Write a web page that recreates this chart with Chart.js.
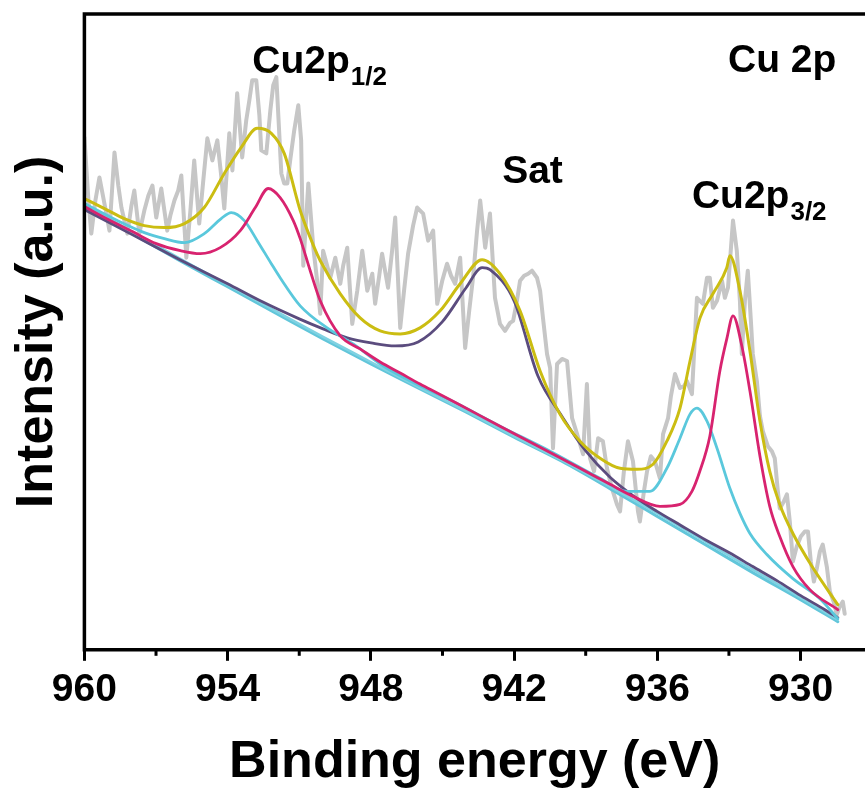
<!DOCTYPE html>
<html><head><meta charset="utf-8">
<script src="https://cdn.jsdelivr.net/npm/chart.js@4.4.0/dist/chart.umd.min.js"></script>
<style>html,body{margin:0;padding:0;background:#fff;overflow:hidden}#wrap{width:865px;height:794px;position:relative}</style>
</head><body><div id="wrap"><canvas id="c" width="865" height="794"></canvas></div>
<script>
// ---- Data (binding energy in eV, intensity in a.u.) ----
const rawE = [960.00,959.83,959.71,959.54,959.37,959.16,958.95,958.74,958.58,958.45,958.20,958.03,957.91,957.70,957.49,957.32,957.15,956.99,956.78,956.53,956.40,956.23,956.07,955.94,955.73,955.56,955.40,955.19,955.02,954.85,954.64,954.43,954.27,954.14,953.93,953.80,953.60,953.39,953.22,953.09,952.97,952.80,952.67,952.59,952.38,952.21,952.09,951.96,951.75,951.63,951.50,951.38,951.21,951.04,950.92,950.83,950.62,950.41,950.25,950.12,950.00,949.83,949.70,949.49,949.28,949.16,948.99,948.78,948.57,948.36,948.15,947.94,947.82,947.65,947.53,947.28,947.11,946.98,946.77,946.61,946.44,946.23,946.06,945.81,945.60,945.39,945.22,945.01,944.81,944.64,944.47,944.26,944.05,943.88,943.72,943.55,943.42,943.21,943.01,942.80,942.59,942.38,942.17,942.04,941.88,941.75,941.58,941.41,941.25,941.04,940.91,940.79,940.62,940.49,940.37,940.20,939.99,939.78,939.57,939.36,939.11,938.95,938.82,938.65,938.48,938.28,938.11,937.90,937.69,937.56,937.40,937.23,937.02,936.81,936.73,936.56,936.43,936.27,936.10,935.89,935.76,935.55,935.43,935.26,935.05,934.88,934.76,934.55,934.34,934.22,934.09,933.92,933.80,933.67,933.50,933.29,933.17,933.04,932.83,932.67,932.54,932.46,932.33,932.21,932.08,932.00,931.83,931.70,931.58,931.37,931.20,931.08,930.95,930.87,930.70,930.57,930.45,930.32,930.16,929.99,929.82,929.69,929.57,929.44,929.32,929.19,929.07,928.90,928.77,928.61,928.48,928.36,928.23,928.15];
const rawI = [511,448,415,448,471,445,418,496,463,441,415,443,458,415,438,453,463,431,460,418,433,448,458,473,391,438,488,425,468,510,488,508,473,440,515,478,555,491,528,548,568,568,533,498,495,538,563,571,475,465,465,488,518,543,508,383,465,401,368,335,398,383,371,391,365,383,401,325,358,398,358,375,345,373,395,361,398,431,321,358,395,423,441,435,408,418,345,368,385,373,365,391,301,338,371,418,448,401,435,351,325,318,326,328,348,368,373,375,378,371,358,331,295,281,201,285,290,288,231,215,195,265,191,178,211,208,181,161,145,138,178,208,188,138,128,158,178,193,188,171,215,231,253,275,261,263,268,255,351,348,345,371,371,341,348,368,351,361,428,398,348,295,348,378,328,295,268,233,218,203,198,191,158,141,148,155,128,88,103,113,118,118,88,68,81,98,105,83,58,48,35,43,48,36];

const envE = [960.00,959.16,958.33,957.49,956.65,955.81,954.98,954.14,953.43,952.76,952.17,951.63,951.08,950.96,950.37,950.12,949.28,948.45,947.61,946.77,945.94,945.10,944.26,943.34,942.59,941.75,940.91,940.08,939.24,938.40,937.56,936.85,936.18,935.60,935.05,934.63,934.21,933.67,933.09,932.96,932.54,932.12,931.70,931.29,930.87,930.32,929.49,928.44];
const envI = [450,440,430,423,421,425,441,475,501,520,515,495,448,438,401,388,355,331,318,315,321,338,365,389,375,338,278,235,208,191,181,180,185,208,241,288,331,355,381,393,358,298,228,178,145,116,82,45];

const cuAE = [960.00,959.00,957.99,956.99,955.98,955.14,954.31,953.47,952.84,952.30,951.80,951.25,950.96,950.54,950.12,949.28,948.45,947.61,946.77,945.94,945.22,944.26,942.59,940.91,939.24,937.98,937.02,935.89,935.05,934.55,934.22,933.80,933.38,933.09,932.83,932.46,932.12,931.70,931.29,930.87,930.32,929.61,928.44];
const cuAI = [442,429,417,405,398,395,401,418,441,460,451,428,410,378,348,313,300,287,276,265,256,244,223,202,181,165,153,143,145,158,178,213,278,310,333,303,258,193,143,113,83,60,40];

const cuBE = [960.00,958.62,957.49,956.65,955.81,954.98,954.27,953.85,953.30,952.76,952.17,951.80,950.96,949.83,948.74,947.61,946.35,944.68,942.59,940.49,938.40,937.27,936.31,935.60,935.05,934.63,934.34,933.92,933.50,932.96,932.54,932.12,931.41,930.32,929.19,928.44];
const cuBI = [445,428,416,410,406,415,430,436,428,408,385,371,343,321,305,285,268,249,223,198,171,158,158,181,211,235,241,228,201,161,136,116,95,71,51,31];

const satE = [960.00,958.00,956.00,954.00,952.63,951.00,950.00,948.99,947.99,946.98,946.02,945.01,944.01,943.34,943.01,942.00,941.00,940.00,938.99,937.98,936.98,936.01,935.01,934.01,933.00,932.00,930.99,929.99,928.98,928.44];
const satI = [439,414,389,365,348,330,320,311,306,303,307,327,361,381,379,348,273,233,198,172,153,138,124,110,97,83,69,54,40,32];

const bgAE = [960,958,956,954,952,950,948,946,944,942,940,938,936,934,932,930,928.44];
const bgAI = [441,415,388,362,336,310,285,261,237,212,188,161,133,105,77,50,28];
const bgBE = [960,958,956,954,952,950,948,946,944,942,940,938,936,934,932,930,928.44];
const bgBI = [444,417,390,364,338,312,287,262,238,213,189,163,136,108,80,52,30];

const tickValues = [930,936,942,948,954,960];
const tickLabels = ['930','936','942','948','954','960'];
const minorTickValues = [933,939,945,951,957];

const annoMain = ['Cu2p','Sat','Cu 2p','Cu2p'];
const annoSub  = ['1/2','','','3/2'];
const annoE = [952.97,942.50,933.04,934.55];
const annoI = [575,465,576,441];

// ---- Chart ----
const FONT = "'Liberation Sans', Arial, Helvetica, sans-serif";
const pts = (E, I) => E.map((e, i) => ({x: e, y: I[i]}));

const framePlugin = {
  id: 'frame',
  afterDatasetsDraw(chart) {
    const {ctx, chartArea: a, scales: {x}} = chart;
    ctx.save();
    ctx.strokeStyle = '#000';
    ctx.lineWidth = 3.5;
    ctx.lineCap = 'square';
    ctx.beginPath();
    ctx.moveTo(a.right + 5, a.top);
    ctx.lineTo(a.left, a.top);
    ctx.lineTo(a.left, a.bottom);
    ctx.lineTo(a.right + 5, a.bottom);
    ctx.stroke();
    ctx.lineWidth = 3;
    ctx.lineCap = 'butt';
    minorTickValues.forEach(v => {
      const px = x.getPixelForValue(v);
      if (px >= a.left && px <= a.right) {
        ctx.beginPath();
        ctx.moveTo(px, a.bottom);
        ctx.lineTo(px, a.bottom + 6);
        ctx.stroke();
      }
    });
    ctx.restore();
  },
  afterDraw(chart) {
    const {ctx, scales: {x, y}} = chart;
    ctx.save();
    ctx.fillStyle = '#000';
    ctx.textBaseline = 'alphabetic';
    ctx.textAlign = 'left';
    annoMain.forEach((t, i) => {
      const px = x.getPixelForValue(annoE[i]);
      const py = y.getPixelForValue(annoI[i]);
      ctx.font = 'bold 39px ' + FONT;
      ctx.fillText(t, px, py);
      if (annoSub[i]) {
        const w = ctx.measureText(t).width;
        ctx.font = 'bold 26px ' + FONT;
        ctx.fillText(annoSub[i], px + w + 1, py + 12);
      }
    });
    ctx.restore();
  }
};

const line = (label, E, I, color, width, order, smooth) => ({
  label, data: pts(E, I), borderColor: color, borderWidth: width,
  pointRadius: 0, fill: false, order,
  tension: 0, cubicInterpolationMode: smooth ? 'monotone' : 'default',
  borderJoinStyle: 'round', borderCapStyle: 'round'
});

new Chart(document.getElementById('c'), {
  type: 'line',
  data: {
    datasets: [
      line('Raw', rawE, rawI, '#c6c6c6', 4, 7, false),
      line('Background 1', bgAE, bgAI, '#62c6da', 3, 6, true),
      line('Background 2', bgBE, bgBI, '#7fd2e2', 2.5, 5, true),
      line('Satellite', satE, satI, '#5b4c7e', 2.8, 4, true),
      line('Cu2+', cuBE, cuBI, '#5ac8dc', 2.8, 3, true),
      line('Cu+', cuAE, cuAI, '#d8236f', 2.8, 2, true),
      line('Envelope', envE, envI, '#cbbd12', 3, 1, true)
    ]
  },
  options: {
    responsive: false,
    devicePixelRatio: 1,
    animation: false,
    layout: {padding: {top: 14, left: 0, right: 0, bottom: 0}},
    plugins: {legend: {display: false}, tooltip: {enabled: false}},
    scales: {
      x: {
        type: 'linear', reverse: true, min: 927.3, max: 960,
        afterBuildTicks: s => { s.ticks = tickValues.map(v => ({value: v})); },
        ticks: {
          stepSize: 6, includeBounds: false, autoSkip: false, maxRotation: 0, padding: 6,
          color: '#000', font: {family: FONT, size: 39, weight: 'bold'},
          callback: v => tickLabels[tickValues.indexOf(v)]
        },
        grid: {display: true, drawOnChartArea: false, drawTicks: true, tickLength: 11, tickWidth: 3, tickColor: '#000'},
        border: {display: false},
        title: {display: true, text: 'Binding energy (eV)', color: '#000',
          font: {family: FONT, size: 52, weight: 'bold'}, padding: {top: 12, bottom: 0}}
      },
      y: {
        type: 'linear', min: 0, max: 634,
        ticks: {display: false},
        grid: {display: false, drawTicks: false},
        border: {display: false},
        title: {display: true, text: 'Intensity (a.u.)', color: '#000',
          font: {family: FONT, size: 52, weight: 'bold'}, padding: {top: 6, bottom: 16}}
      }
    }
  },
  plugins: [framePlugin]
});
</script></body></html>
